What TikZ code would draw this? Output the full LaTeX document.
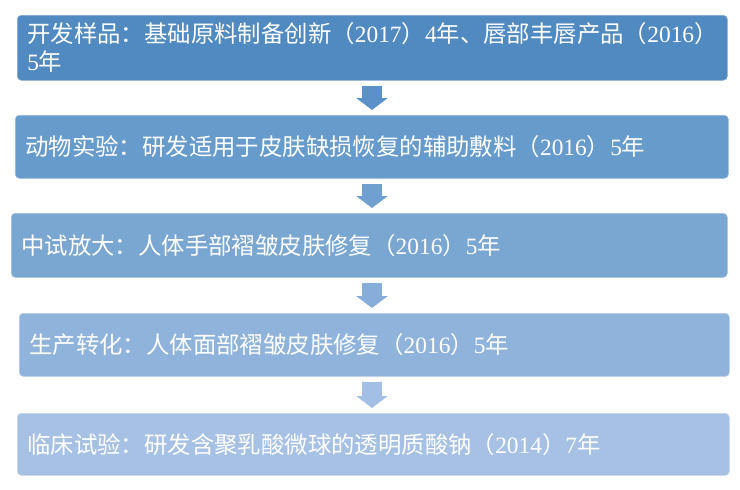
\documentclass[tikz,border=0pt]{standalone}
\usepackage{fontspec}
\setmainfont{Liberation Serif}
\newfontfamily\cjk{Noto Sans CJK SC}
\newcommand\yr[1]{{\rmfamily#1}}
\definecolor{stageA}{HTML}{508AC0}
\definecolor{stageB}{HTML}{679BCC}
\definecolor{stageC}{HTML}{7AA6D2}
\definecolor{stageD}{HTML}{8FB3DB}
\definecolor{stageE}{HTML}{A6C1E3}
\definecolor{flowA}{HTML}{5A91C8}
\definecolor{flowB}{HTML}{6FA0D0}
\definecolor{flowC}{HTML}{87AEDA}
\definecolor{flowD}{HTML}{A3C0E4}
\usetikzlibrary{arrows.meta}
\tikzset{
  stagebox/.style={rectangle,rounded corners=4pt,anchor=north west,draw=white!30!#1,
    fill=#1,line width=0.6pt,inner xsep=10pt,inner ysep=0pt,align=left,
    text=white,font=\cjk\fontsize{23.4}{28}\selectfont},
  flow/.style={line width=20pt,draw=#1,
    -{Triangle[width=31pt,length=12pt,fill=#1]},shorten <=5pt,shorten >=5pt}
}
\begin{document}
\begin{tikzpicture}[x=1pt,y=-1pt]
  \useasboundingbox (0,0) rectangle (740,490);
  \node[stagebox=stageA,text width=690pt,minimum height=65pt] (b1) at (17,15)
    {开发样品：基础原料制备创新（\yr{2017}）\yr{4}年、唇部丰唇产品（\yr{2016}）\\\yr{5}年};
  \node[stagebox=stageB,text width=693pt,minimum height=63pt] (b2) at (15,115)
    {动物实验：研发适用于皮肤缺损恢复的辅助敷料（\yr{2016}）\yr{5}年};
  \node[stagebox=stageC,text width=696pt,minimum height=64pt] (b3) at (11,213)
    {中试放大：人体手部褶皱皮肤修复（\yr{2016}）\yr{5}年};
  \node[stagebox=stageD,text width=690pt,minimum height=63pt] (b4) at (19,313)
    {生产转化：人体面部褶皱皮肤修复（\yr{2016}）\yr{5}年};
  \node[stagebox=stageE,text width=692pt,minimum height=62pt] (b5) at (17,413)
    {临床试验：研发含聚乳酸微球的透明质酸钠（\yr{2014}）\yr{7}年};
  \coordinate (axis) at (372,0);
  \foreach \a/\b/\c in {b1/b2/flowA, b2/b3/flowB, b3/b4/flowC, b4/b5/flowD}
    \draw[flow=\c] (\a.south -| axis) -- (\b.north -| axis);
\end{tikzpicture}
\end{document}
